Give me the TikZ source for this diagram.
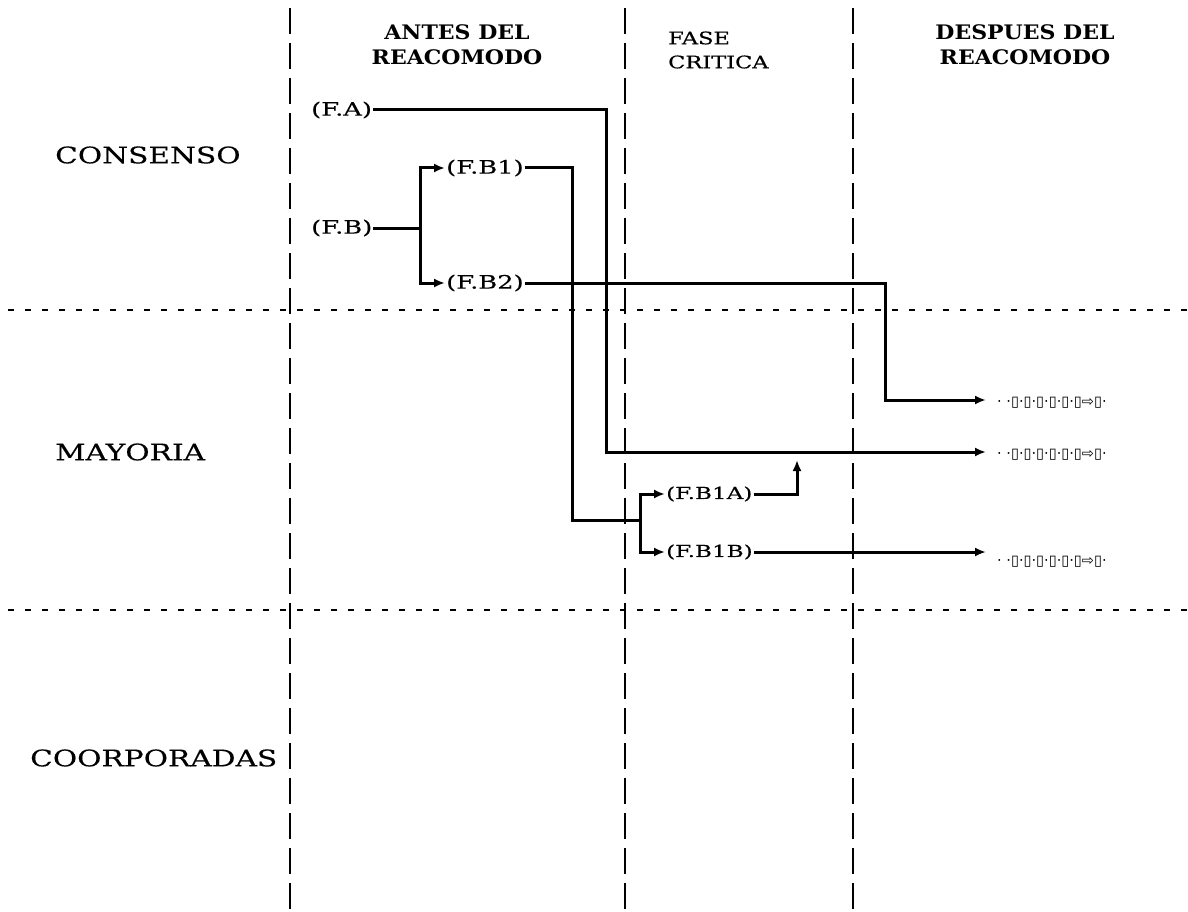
\documentclass[tikz,border=0pt]{standalone}
\usepackage{fontspec}
\setmainfont{DejaVu Serif}[FakeStretch=1.3,FakeBold=0.3]
\newfontfamily\lblf{DejaVu Serif}[FakeStretch=1.4,FakeBold=0.3]
\newfontfamily\headf{DejaVu Serif Bold}[FakeStretch=1.1]
\newfontfamily\symf{DejaVu Sans}
\usetikzlibrary{arrows.meta}
\begin{document}
\begin{tikzpicture}[x=1pt,y=-1pt,
  vdash/.style={line width=2.8pt,dash pattern=on 26pt off 9pt},
  hdash/.style={line width=1.7pt,dash pattern=on 6pt off 11pt},
  conn/.style={line width=3pt},
  arr/.style={conn,-{Latex[length=11pt,width=9pt]}},
  rowlbl/.style={anchor=west,inner sep=0pt,font=\fontsize{22.8}{26}\selectfont},
  headb/.style={align=center,inner sep=0pt,font=\headf\fontsize{20}{25}\selectfont},
  headr/.style={align=left,inner sep=0pt,font=\fontsize{17.3}{24}\selectfont},
  lbl/.style={anchor=west,inner sep=1pt,font=\lblf\fontsize{18.4}{20}\selectfont},
  lbls/.style={anchor=west,inner sep=1pt,font=\lblf\fontsize{16.5}{20}\selectfont},
  garb/.style={anchor=west,inner sep=0pt,font=\symf\fontsize{14.5}{16}\selectfont}]
\useasboundingbox (0,0) rectangle (1188,912);
% grid
\draw[vdash] (290,8) -- (290,912);
\draw[vdash] (625,8) -- (625,912);
\draw[vdash] (853,8) -- (853,912);
\draw[hdash] (8,310) -- (1188,310);
\draw[hdash] (8,610) -- (1188,610);
% headers
\node[headb] (h1) at (457,45) {ANTES DEL\\REACOMODO};
\node[headr,anchor=west] (h2) at (668,50) {FASE\\CRITICA};
\node[headb] (h3) at (1025,45) {DESPUES DEL\\REACOMODO};
% row labels
\node[rowlbl] (r1) at (55,155) {CONSENSO};
\node[rowlbl] (r2) at (55,452) {MAYORIA};
\node[rowlbl] (r3) at (30,758) {COORPORADAS};
% nodes
\node[lbl] (FA) at (310,110) {(F.A)};
\node[lbl] (FB) at (310,228) {(F.B)};
\node[lbl] (FB1) at (445,168) {(F.B1)};
\node[lbl] (FB2) at (445,283) {(F.B2)};
\node[lbls] (FB1A) at (665,494) {(F.B1A)};
\node[lbls] (FB1B) at (665,552) {(F.B1B)};
\node[garb] (g1) at (997,403) {· ·▯·▯·▯·▯·▯·▯⇨▯·};
\node[garb] (g2) at (997,455) {· ·▯·▯·▯·▯·▯·▯⇨▯·};
\node[garb] (g3) at (997,562) {· ·▯·▯·▯·▯·▯·▯⇨▯·};
\coordinate (e1) at (986,400);
\coordinate (e2) at (986,452);
\coordinate (e3) at (986,552);
\coordinate (fbj) at (420,228);
\coordinate (fb1j) at (640,520);
\coordinate (up) at (797,460);
% connectors
\draw[arr] (FA.east) -- (606,110) |- (e2);
\draw[conn] (FB.east) -- (fbj);
\draw[arr] (fbj) |- (FB1.west);
\draw[arr] (fbj) |- (FB2.west);
\draw[arr] (FB2.east) -- (885,283) |- (e1);
\draw[conn] (FB1.east) -- (572,168) |- (fb1j);
\draw[arr] (fb1j) |- (FB1A.west);
\draw[arr] (fb1j) |- (FB1B.west);
\draw[arr] (FB1A.east) -| (up);
\draw[arr] (FB1B.east) -- (FB1B.east -| e3);
\end{tikzpicture}
\end{document}
